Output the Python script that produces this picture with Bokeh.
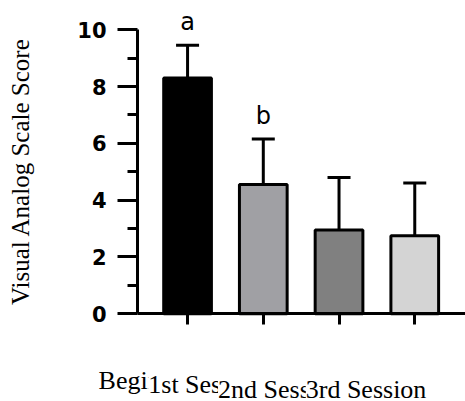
from bokeh.plotting import figure
from bokeh.models import ColumnDataSource, Range1d, FixedTicker, Whisker, TeeHead, LabelSet
from bokeh.embed import file_html
from bokeh.resources import INLINE
from bokeh.core.properties import value

# ---- data ----
categories = ["Beginning", "1st Session", "2nd Session", "3rd Session"]
means = [8.3, 4.55, 2.95, 2.75]
sds = [1.15, 1.6, 1.85, 1.85]
sig_letters = ["a", "b", "", ""]
y_ticks = [0, 2, 4, 6, 8, 10]

# ---- styles ----
bar_colors = ["#000000", "#a0a0a4", "#808080", "#d4d4d4"]
label_dx = [-89, -115, -121, -109]
label_dy = [-75, -79, -84, -84]

xs = list(range(len(categories)))
upper = [m + s for m, s in zip(means, sds)]
baseline = [0 for _ in categories]

src = ColumnDataSource(dict(x=xs, cat=categories, mean=means, upper=upper,
                            color=bar_colors, sig=sig_letters, base=baseline,
                            dx=label_dx, dy=label_dy))

Y_AXIS_AT = -0.66
X_END = 3.67

p = figure(width=465, height=401,
           x_range=Range1d(-2.47, X_END), y_range=Range1d(-3.09, 11.03),
           output_backend="svg", toolbar_location=None,
           min_border_left=0, min_border_right=0,
           min_border_top=0, min_border_bottom=0)

p.vbar(x="x", top="mean", width=0.63, source=src,
       fill_color="color", line_color="black", line_width=3)

p.add_layout(Whisker(source=src, base="x", upper="upper", lower="mean",
                     dimension="height", line_color="black", line_width=3,
                     upper_head=TeeHead(size=23, line_width=3, line_color="black"),
                     lower_head=None))

p.text(x="x", y="upper", text="sig", source=src,
       text_font=value("DejaVu Sans"), text_font_size="24px",
       text_align="center", text_baseline="alphabetic", y_offset=-23,
       text_color="black")

p.add_layout(LabelSet(x="x", y="base", text="cat", source=src,
                      x_offset="dx", y_offset="dy",
                      text_font=value("Liberation Serif"), text_font_size="26px",
                      text_align="left", text_baseline="alphabetic",
                      text_color="black", background_fill_color="white"))

# x axis (drawn at y = 0)
p.xaxis.fixed_location = 0
p.xaxis.bounds = (Y_AXIS_AT, X_END)
p.xaxis.ticker = FixedTicker(ticks=xs)
p.xaxis.major_label_overrides = {i: "" for i in xs}
p.xaxis.axis_line_width = 3
p.xaxis.axis_line_color = "black"
p.xaxis.major_tick_line_width = 3
p.xaxis.major_tick_line_color = "black"
p.xaxis.major_tick_out = 11
p.xaxis.major_tick_in = 0
p.xaxis.minor_tick_line_color = None

# y axis (drawn left of first bar)
minor = [(a + b) / 2 for a, b in zip(y_ticks, y_ticks[1:])]
p.yaxis.fixed_location = Y_AXIS_AT
p.yaxis.ticker = FixedTicker(ticks=y_ticks, minor_ticks=minor)
p.yaxis.bounds = (0, 10)
p.yaxis.axis_line_width = 3
p.yaxis.axis_line_color = "black"
p.yaxis.major_tick_line_width = 3
p.yaxis.major_tick_line_color = "black"
p.yaxis.minor_tick_line_width = 3
p.yaxis.minor_tick_line_color = "black"
p.yaxis.major_tick_out = 20
p.yaxis.major_tick_in = 0
p.yaxis.minor_tick_out = 10
p.yaxis.minor_tick_in = 0
p.yaxis.major_label_text_font = "DejaVu Sans"
p.yaxis.major_label_text_font_style = "bold"
p.yaxis.major_label_text_font_size = "21px"
p.yaxis.major_label_text_color = "black"
p.yaxis.major_label_standoff = 11
p.yaxis.axis_label = "Visual Analog Scale Score"
p.yaxis.axis_label_text_font = "Liberation Serif"
p.yaxis.axis_label_text_font_style = "normal"
p.yaxis.axis_label_text_font_size = "25px"
p.yaxis.axis_label_text_color = "black"
p.yaxis.axis_label_standoff = 40

p.grid.visible = False
p.outline_line_color = None
p.background_fill_color = "white"
p.border_fill_color = "white"

open("out.html", "w").write(file_html(p, INLINE))
